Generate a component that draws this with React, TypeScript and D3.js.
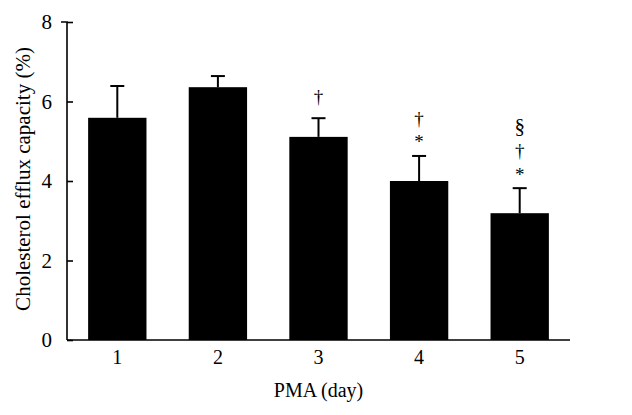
import React, { useEffect, useRef } from 'react'
import * as d3 from 'd3'

const days = ['1', '2', '3', '4', '5']
const efflux = [5.59, 6.36, 5.11, 4.0, 3.19]
const sem = [0.8, 0.28, 0.47, 0.63, 0.63]
// significance marks, listed from bottom to top
const marks = [[], [], ['†'], ['*', '†'], ['*', '†', '§']]
const yTicks = [0, 2, 4, 6, 8]

const W = 632
const H = 415
const margin = { top: 22, right: 62, bottom: 75, left: 67 }
const font = '"Liberation Serif", "DejaVu Serif", serif'

// how far a glyph's middle sits above its baseline (px)
const mid: Record<string, number> = { '*': 9.5, '†': 5, '§': 6 }

export default function App() {
  const ref = useRef<SVGSVGElement>(null)

  useEffect(() => {
    const svg = d3.select(ref.current)
    svg.selectAll('*').remove()

    const x = d3.scaleBand()
      .domain(days)
      .range([margin.left, W - margin.right])
      .paddingInner(0.42)
      .paddingOuter(0.21)
    const y = d3.scaleLinear().domain([0, 8]).range([H - margin.bottom, margin.top])

    const data = days.map((d, i) => ({ day: d, v: efflux[i], e: sem[i], m: marks[i] }))

    // bars
    svg.append('g')
      .selectAll('rect')
      .data(data)
      .enter()
      .append('rect')
        .attr('x', d => x(d.day)!)
        .attr('y', d => y(d.v))
        .attr('width', x.bandwidth())
        .attr('height', d => y(0) - y(d.v))
        .attr('fill', '#000')

    // error bars
    const err = svg.append('g').attr('stroke', '#000').attr('stroke-width', 2)
    data.forEach(d => {
      const cx = x(d.day)! + x.bandwidth() / 2
      err.append('line')
        .attr('x1', cx).attr('x2', cx)
        .attr('y1', y(d.v)).attr('y2', y(d.v + d.e))
      err.append('line')
        .attr('x1', cx - 7).attr('x2', cx + 7)
        .attr('y1', y(d.v + d.e)).attr('y2', y(d.v + d.e))
    })

    // significance symbols, stacked above the cap
    data.forEach(d => {
      const cx = x(d.day)! + x.bandwidth() / 2
      const top = y(d.v + d.e)
      d.m.forEach((s, k) => {
        const centre = top - 17 - k * 19 - (s === '§' ? 6 : 0) - (s === '†' && k === 0 ? 3 : 0)
        svg.append('text')
          .attr('x', cx)
          .attr('y', centre + mid[s])
          .attr('text-anchor', 'middle')
          .attr('font-family', font)
          .attr('font-size', s === '§' ? 21 : 19)
          .attr('fill', '#000')
          .text(s)
      })
    })

    // y axis
    const yAxis = svg.append('g')
      .attr('transform', `translate(${margin.left},0)`)
      .call(d3.axisLeft(y).tickValues(yTicks).tickSize(-6).tickPadding(15))
    yAxis.select('.domain').attr('stroke', '#000').attr('stroke-width', 1.6)
      .attr('d', `M${-6},${y(8)}H0V${y(0)}`)
    yAxis.selectAll('.tick line').attr('stroke', '#000').attr('stroke-width', 1.6)
    yAxis.selectAll('.tick text')
      .attr('font-family', font).attr('font-size', 21).attr('fill', '#000')

    // x axis
    const xAxis = svg.append('g')
      .attr('transform', `translate(0,${y(0)})`)
      .call(d3.axisBottom(x).tickSize(0).tickPadding(10))
    xAxis.select('.domain').attr('stroke', '#000').attr('stroke-width', 1.6)
      .attr('d', `M${margin.left},0H${W - margin.right}`)
    xAxis.selectAll('.tick text')
      .attr('font-family', font).attr('font-size', 20).attr('fill', '#000')

    // axis titles
    svg.append('text')
      .attr('x', (margin.left + W - margin.right) / 2)
      .attr('y', 397)
      .attr('text-anchor', 'middle')
      .attr('font-family', font).attr('font-size', 20)
      .text('PMA (day)')

    svg.append('text')
      .attr('transform', `translate(30,${(y(0) + y(8)) / 2 - 2}) rotate(-90)`)
      .attr('text-anchor', 'middle')
      .attr('font-family', font).attr('font-size', 21)
      .text('Cholesterol efflux capacity (%)')
  }, [])

  return (
    <svg ref={ref} width={W} height={H} style={{ position: 'absolute', left: 0, top: 0, background: '#fff' }} />
  )
}
